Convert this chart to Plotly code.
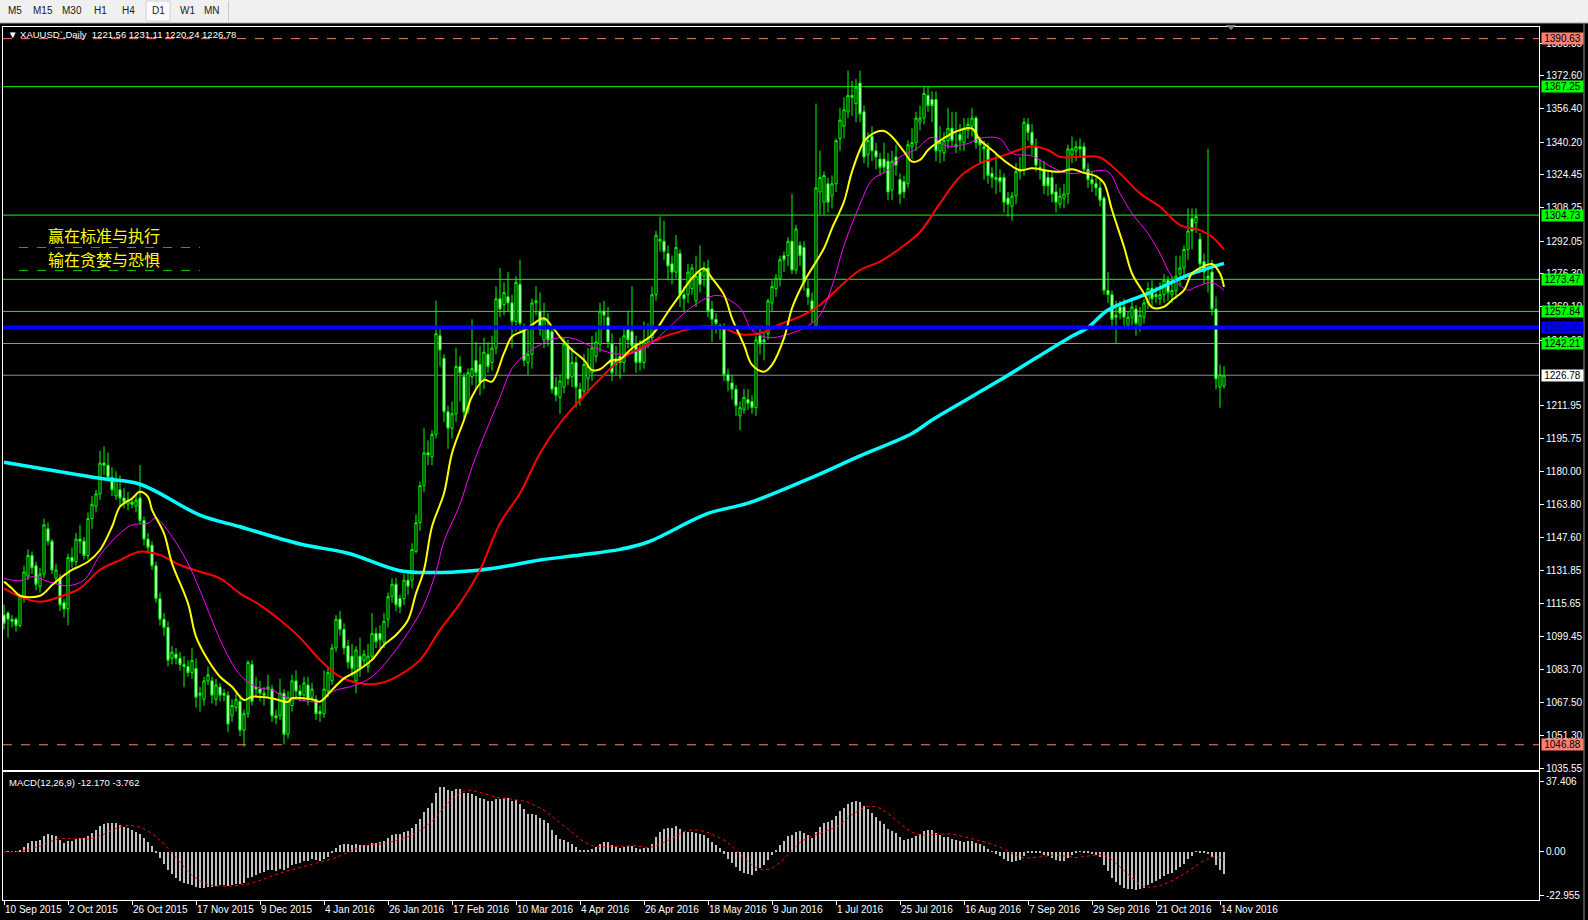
import numpy as np
import plotly.graph_objects as go

W, H = 1588, 920

# ---------------- data (daily XAUUSD bars, index 0 = 10 Sep 2015) ----------------
OPEN = [1110,1111,1108,1108,1105,1119,1129,1139,1134,1124,1130,1152,1146,1128,1128,1116,1113,1138,1136,1147,
        1146,1139,1157,1163,1169,1184,1183,1177,1168,1171,1167,1164,1165,1163,1167,1156,1147,1144,1134,1118,
        1108,1104,1089,1091,1089,1086,1085,1082,1084,1071,1069,1078,1078,1069,1075,1072,1071,1061,1065,1068,
        1054,1062,1086,1075,1074,1072,1074,1074,1061,1061,1072,1052,1066,1078,1073,1071,1076,1070,1069,1063,
        1062,1073,1078,1094,1108,1103,1095,1090,1078,1090,1088,1085,1090,1101,1101,1097,1108,1119,1125,1118,
        1118,1127,1127,1141,1155,1173,1189,1187,1198,1246,1235,1209,1201,1208,1231,1226,1210,1226,1234,1232,
        1225,1237,1233,1240,1264,1261,1265,1262,1253,1271,1249,1233,1237,1262,1258,1244,1249,1248,1221,1216,
        1221,1241,1226,1233,1220,1219,1225,1228,1236,1242,1258,1255,1242,1234,1236,1233,1249,1248,1242,1240,
        1233,1243,1245,1266,1292,1292,1286,1281,1277,1286,1266,1266,1269,1263,1277,1275,1279,1259,1254,1251,
        1250,1227,1223,1220,1207,1210,1215,1214,1211,1246,1244,1247,1262,1269,1274,1285,1285,1292,1278,1290,
        1289,1269,1263,1251,1316,1311,1320,1314,1320,1342,1348,1355,1363,1359,1369,1355,1334,1343,1336,1332,
        1332,1331,1317,1333,1322,1321,1320,1338,1340,1350,1352,1363,1361,1361,1336,1335,1341,1347,1338,1344,
        1340,1346,1348,1352,1341,1338,1337,1325,1322,1323,1323,1313,1309,1314,1326,1327,1349,1345,1338,1328,
        1327,1323,1323,1316,1310,1313,1315,1334,1336,1338,1338,1327,1322,1320,1318,1313,1268,1266,1256,1260,
        1260,1251,1255,1259,1251,1255,1262,1269,1266,1264,1266,1273,1266,1268,1276,1279,1288,1303,1301,1293,
        1282,1275,1277,1259,1221,1221.56]
HIGH = [1115,1112,1110,1109,1120,1134,1142,1141,1136,1133,1157,1155,1147,1135,1130,1118,1140,1143,1150,1154,
        1148,1160,1168,1171,1190,1192,1189,1182,1180,1178,1172,1170,1167,1169,1183,1158,1150,1146,1136,1121,
        1111,1107,1095,1094,1092,1090,1088,1094,1089,1075,1080,1085,1080,1079,1077,1074,1073,1069,1072,1071,
        1064,1088,1088,1080,1078,1075,1081,1076,1064,1079,1074,1073,1081,1083,1076,1080,1080,1077,1071,1066,
        1083,1085,1096,1110,1112,1106,1098,1096,1095,1099,1093,1096,1111,1104,1105,1111,1121,1128,1128,1120,
        1130,1131,1145,1159,1175,1201,1195,1200,1263,1250,1237,1212,1214,1240,1236,1228,1230,1254,1243,1241,
        1245,1243,1246,1270,1279,1272,1277,1266,1275,1283,1252,1250,1264,1270,1267,1262,1257,1250,1226,1227,
        1245,1244,1240,1236,1223,1237,1240,1246,1248,1262,1263,1260,1247,1241,1245,1250,1258,1270,1246,1244,
        1253,1252,1270,1297,1304,1302,1290,1285,1295,1288,1270,1281,1281,1285,1290,1282,1283,1263,1257,1252,
        1252,1230,1227,1222,1214,1220,1220,1217,1246,1250,1248,1264,1273,1276,1285,1287,1294,1315,1300,1292,
        1292,1273,1267,1359,1336,1326,1323,1324,1342,1357,1362,1375,1370,1371,1375,1358,1345,1348,1340,1335,
        1340,1335,1336,1339,1325,1324,1341,1347,1355,1358,1367,1367,1365,1365,1348,1345,1357,1355,1355,1349,
        1352,1352,1357,1353,1343,1341,1340,1328,1335,1327,1325,1316,1316,1330,1333,1352,1352,1349,1342,1332,
        1331,1326,1326,1320,1318,1320,1339,1343,1341,1342,1340,1330,1326,1323,1322,1314,1277,1268,1263,1263,
        1264,1258,1263,1261,1260,1264,1272,1273,1270,1272,1276,1275,1275,1285,1285,1290,1308,1308,1308,1296,
        1286,1337,1283,1265,1232,1231.11]
LOW = [1103,1099,1104,1102,1104,1116,1127,1130,1122,1121,1128,1144,1130,1125,1112,1109,1105,1133,1134,1140,
       1137,1137,1152,1160,1166,1178,1175,1168,1166,1163,1162,1161,1162,1160,1154,1144,1140,1132,1116,1105,
       1100,1085,1086,1086,1083,1075,1080,1079,1065,1063,1066,1076,1067,1066,1068,1068,1053,1058,1063,1051,
       1046,1060,1066,1070,1068,1066,1070,1058,1057,1059,1047,1050,1063,1070,1068,1068,1066,1068,1059,1058,
       1060,1070,1076,1092,1100,1091,1084,1080,1072,1080,1085,1082,1088,1094,1094,1094,1104,1116,1112,1111,
       1115,1120,1123,1140,1151,1170,1183,1183,1196,1231,1204,1191,1196,1204,1214,1206,1208,1222,1220,1217,
       1220,1228,1229,1237,1255,1256,1258,1240,1248,1248,1231,1227,1230,1256,1246,1240,1241,1218,1214,1208,
       1218,1222,1221,1211,1212,1216,1218,1224,1233,1238,1250,1240,1224,1227,1225,1228,1240,1237,1228,1229,
       1230,1240,1243,1263,1287,1283,1273,1271,1274,1260,1258,1262,1266,1260,1267,1270,1255,1243,1247,1244,
       1224,1219,1215,1207,1200,1208,1210,1208,1207,1237,1234,1244,1258,1265,1270,1277,1280,1276,1276,1280,
       1268,1261,1252,1249,1305,1305,1306,1308,1316,1336,1342,1352,1353,1350,1350,1330,1328,1331,1327,1324,
       1325,1312,1312,1324,1310,1313,1318,1332,1336,1346,1349,1355,1350,1331,1330,1331,1337,1338,1335,1336,
       1336,1342,1343,1337,1330,1322,1320,1318,1315,1316,1306,1304,1302,1310,1322,1324,1341,1334,1326,1322,
       1315,1314,1311,1306,1308,1308,1310,1330,1331,1333,1325,1318,1316,1314,1309,1266,1262,1250,1242,1254,
       1250,1249,1251,1246,1248,1252,1259,1260,1262,1261,1262,1263,1262,1264,1270,1274,1283,1288,1296,1278,
       1271,1267,1256,1220,1211,1220.24]
CLOSE = [1106,1108,1107,1105,1119,1131,1139,1133,1125,1130,1154,1146,1132,1132,1115,1113,1138,1136,1147,1146,
         1139,1157,1164,1169,1184,1183,1177,1171,1176,1167,1165,1166,1164,1166,1156,1147,1143,1134,1118,1108,
         1104,1088,1092,1089,1086,1085,1082,1088,1070,1072,1078,1081,1071,1076,1071,1071,1057,1066,1069,1054,
         1062,1087,1068,1074,1072,1071,1075,1061,1060,1072,1052,1070,1078,1073,1071,1077,1069,1074,1062,1062,
         1074,1082,1094,1108,1103,1094,1087,1084,1093,1084,1091,1090,1101,1097,1098,1107,1119,1125,1115,1114,
         1127,1124,1142,1155,1173,1189,1188,1198,1247,1239,1209,1201,1208,1231,1228,1209,1228,1230,1228,1223,
         1238,1231,1240,1264,1259,1267,1262,1253,1272,1252,1234,1237,1262,1263,1249,1254,1244,1220,1217,1224,
         1242,1225,1233,1221,1215,1232,1231,1240,1243,1258,1256,1243,1228,1232,1233,1246,1244,1241,1233,1233,
         1243,1245,1266,1295,1293,1287,1280,1277,1289,1266,1264,1277,1279,1275,1271,1278,1258,1254,1252,1249,
         1227,1224,1220,1212,1211,1216,1213,1211,1244,1242,1243,1263,1270,1274,1283,1283,1292,1278,1298,1285,
         1272,1265,1258,1318,1323,1324,1311,1320,1341,1351,1356,1363,1362,1367,1354,1333,1341,1336,1333,1328,
         1328,1316,1331,1329,1315,1316,1339,1340,1352,1352,1364,1358,1358,1336,1340,1341,1347,1341,1339,1341,
         1347,1349,1352,1340,1339,1337,1324,1323,1323,1321,1311,1310,1314,1326,1327,1350,1345,1339,1329,1327,
         1319,1319,1315,1311,1314,1315,1337,1337,1338,1337,1327,1322,1320,1318,1312,1268,1266,1254,1255,1257,
         1255,1255,1260,1252,1256,1262,1269,1264,1265,1266,1273,1267,1268,1275,1279,1288,1297,1297,1304,1281,
         1277,1274,1259,1225,1227,1226.78]

# moving averages: (bar index, value)
MA_FAST_IDX = [0,2,4,9,12,14,17,19,21,24,27,29,32,34,36,37,40,42,46,48,51,54,57,60,62,67,71,72,77,79,82,85,88,92,95,98,101,103,
               105,107,110,112,115,117,120,122,125,127,130,132,135,137,140,142,145,147,149,152,154,157,162,166,169,172,175,177,180,
               182,185,187,190,192,195,197,200,202,205,207,210,212,215,217,220,222,225,227,229,231,233,237,239,242,244,247,
               251,254,257,261,264,267,270,273,275,277,280,282,285,287,290,292,295,297,300,302,304,305]
MA_FAST_VAL = [1126.3,1123.0,1119.4,1119.4,1124.6,1127.9,1132.0,1133.9,1136.0,1141.7,1153.0,1162.8,1166.8,1170.1,1167.6,1161.2,
               1149.8,1135.2,1115.7,1099.5,1088.1,1080.0,1075.1,1068.7,1070.3,1069.5,1067.8,1069.5,1069.0,1067.9,1073.6,1079.2,
               1082.5,1088.2,1095.5,1100.3,1107.6,1120.6,1132.0,1153.1,1169.3,1188.8,1205.0,1216.4,1224.5,1223.7,1237.5,1245.6,
               1248.5,1251.3,1254.5,1250.4,1243.1,1239.1,1234.2,1229.3,1229.7,1234.2,1234.5,1239.9,1246.4,1257.7,1265.9,1274.0,
               1278.8,1274.0,1265.9,1254.5,1241.5,1231.8,1228.5,1231.8,1244.8,1259.4,1272.3,1278.8,1288.6,1298.3,1311.3,1325.9,
               1340.5,1344.2,1345.7,1342.9,1335.6,1330.8,1331.6,1336.4,1339.6,1344.5,1346.1,1346.9,1341.3,1336.4,1329.9,1326.6,
               1327.5,1326.3,1325.8,1327.1,1325.3,1323.7,1320.2,1307.2,1289.3,1276.3,1266.6,1259.8,1260.1,1263.4,1268.2,1276.3,
               1279.9,1280.9,1276.3,1269.8]
MA_MID_IDX = [0,4,7,12,16,20,24,29,32,36,38,42,46,49,55,59,63,67,70,74,79,82,88,92,97,102,105,108,110,114,117,121,124,127,131,
              134,137,142,147,154,160,166,171,176,179,184,187,191,196,201,204,207,210,214,217,221,224,228,232,236,241,244,249,
              252,257,262,266,271,276,279,282,286,289,292,296,298,302,305]
MA_MID_VAL = [1127.9,1126.7,1128.7,1125.8,1124.3,1127.1,1139.2,1149.8,1153.9,1154.7,1157.1,1148.2,1135.2,1122.0,1094.0,1081.0,
              1075.1,1073.5,1070.3,1068.7,1068.0,1072.7,1076.0,1080.0,1090.6,1104.4,1115.0,1131.0,1146.0,1164.0,1182.0,1202.0,
              1216.0,1230.0,1238.0,1241.5,1244.4,1244.8,1240.7,1237.0,1239.9,1249.6,1258.6,1264.6,1265.5,1259.4,1248.8,1245.1,
              1246.7,1250.9,1256.1,1270.0,1290.0,1310.0,1321.8,1326.7,1333.1,1336.7,1342.6,1338.3,1339.6,1342.1,1341.9,1334.8,
              1333.5,1328.0,1325.0,1325.8,1325.8,1315.3,1305.6,1295.8,1286.1,1274.7,1268.2,1269.8,1271.8,1268.2]
MA_SLOW_IDX = [0,4,9,14,19,24,29,34,39,44,49,54,59,64,69,74,79,84,89,94,99,104,109,114,119,124,129,134,139,144,149,154,159,164,
               169,174,179,184,189,194,199,204,209,214,219,224,229,234,239,244,249,254,257,261,264,269,274,279,284,289,294,299,302,305]
MA_SLOW_VAL = [1123.0,1119.0,1116.5,1119.0,1123.0,1132.0,1136.8,1140.9,1139.2,1134.4,1131.1,1127.9,1120.6,1114.9,1107.6,1099.0,
               1088.2,1080.0,1076.8,1076.8,1080.9,1088.2,1102.8,1115.7,1132.0,1154.7,1169.3,1188.8,1203.4,1214.7,1225.0,1234.2,
               1239.9,1244.8,1248.0,1250.4,1250.4,1246.7,1247.2,1251.6,1255.3,1261.0,1269.9,1278.0,1282.1,1288.5,1296.5,1310.4,
               1323.4,1329.9,1333.1,1336.7,1338.3,1336.4,1333.1,1333.1,1332.8,1325.0,1315.3,1308.8,1299.9,1297.4,1294.2,1288.0]
MA_LONG_IDX = [0,24,34,49,59,74,86,99,107,117,124,134,144,154,161,176,186,201,214,227,232,249,266,271,276,286,296,305]
MA_LONG_VAL = [1184.4,1176.6,1173.7,1158.7,1153.0,1144.6,1140.1,1131.6,1130.7,1131.6,1133.3,1136.8,1139.3,1142.0,1145.6,1159.5,
               1164.5,1176.2,1187.5,1198.4,1205.0,1224.4,1244.7,1250.0,1258.5,1266.6,1275.5,1281.2]

GREEN_LEVELS = [1367.25, 1304.73, 1273.47, 1257.84, 1242.21]
BLUE_LEVEL = 1250.00
CURRENT_PRICE = 1226.78
RED_LEVELS = [1390.63, 1046.88]
MACD_LAST, SIGNAL_LAST = -12.170, -3.762

PRICE_TICKS = [1388.35,1372.60,1356.40,1340.20,1324.45,1308.25,1292.05,1276.30,1260.10,1243.90,1211.95,
               1195.75,1180.00,1163.80,1147.60,1131.85,1115.65,1099.45,1083.70,1067.50,1051.30,1035.55]
MACD_TICKS = [37.406, 0.0, -22.955]
MACD_TICKTEXT = ["37.406", "0.00", "-22.955"]
DATE_TICK_IDX = list(range(0, 305, 16))
DATE_LABELS = ["10 Sep 2015","2 Oct 2015","26 Oct 2015","17 Nov 2015","9 Dec 2015","4 Jan 2016","26 Jan 2016",
               "17 Feb 2016","10 Mar 2016","4 Apr 2016","26 Apr 2016","18 May 2016","9 Jun 2016","1 Jul 2016",
               "25 Jul 2016","16 Aug 2016","7 Sep 2016","29 Sep 2016","21 Oct 2016","14 Nov 2016"]
TIMEFRAMES = ["M5","M15","M30","H1","H4","D1","W1","MN"]

# ---------------- derived ----------------
idx = list(range(len(CLOSE)))
cl = np.array(CLOSE, dtype=float)

def ema(a, n):
    k = 2.0 / (n + 1)
    out = np.empty_like(a)
    out[0] = a[0]
    for i in range(1, len(a)):
        out[i] = a[i] * k + out[i - 1] * (1 - k)
    return out

macd = ema(cl, 12) - ema(cl, 26)
signal = np.array([macd[max(0, i - 8):i + 1].mean() for i in range(len(macd))])

# ---------------- figure ----------------
def px(x):
    return x / W

def py(y):
    return 1 - y / H

X_LEFT, X_RIGHT = 3, 1539
X_RANGE = [-0.25, (X_RIGHT - 4) / 4.0]

fig = go.Figure()
fig.add_trace(go.Candlestick(
    x=idx, open=OPEN, high=HIGH, low=LOW, close=CLOSE,
    increasing=dict(line=dict(color="#00ff00", width=1), fillcolor="#000000"),
    decreasing=dict(line=dict(color="#00ff00", width=1), fillcolor="#ffffff"),
    whiskerwidth=0, hoverinfo="skip", xaxis="x", yaxis="y", showlegend=False))

fig.add_trace(go.Scatter(x=MA_LONG_IDX, y=MA_LONG_VAL, mode="lines", line=dict(color="#00ffff", width=3.5, shape="spline"),
                         hoverinfo="skip", xaxis="x", yaxis="y"))
fig.add_trace(go.Scatter(x=MA_SLOW_IDX, y=MA_SLOW_VAL, mode="lines", line=dict(color="#ff0000", width=2, shape="spline"),
                         hoverinfo="skip", xaxis="x", yaxis="y"))
fig.add_trace(go.Scatter(x=MA_MID_IDX, y=MA_MID_VAL, mode="lines", line=dict(color="#ff00ff", width=1, shape="spline"),
                         hoverinfo="skip", xaxis="x", yaxis="y"))
fig.add_trace(go.Scatter(x=MA_FAST_IDX, y=MA_FAST_VAL, mode="lines", line=dict(color="#ffff00", width=2, shape="spline"),
                         hoverinfo="skip", xaxis="x", yaxis="y"))

fig.add_trace(go.Bar(x=idx, y=macd, width=0.3, marker=dict(color="#c0c0c0", line=dict(width=0)),
                     hoverinfo="skip", xaxis="x2", yaxis="y2"))
fig.add_trace(go.Scatter(x=idx, y=signal, mode="lines", line=dict(color="#ff0000", width=1, dash="dot"),
                         hoverinfo="skip", xaxis="x2", yaxis="y2"))

shapes = []
for lv in GREEN_LEVELS:
    shapes.append(dict(type="line", xref="x domain", yref="y", x0=0, x1=1, y0=lv, y1=lv,
                       line=dict(color="#00ff00", width=1), layer="below"))
shapes.append(dict(type="line", xref="x domain", yref="y", x0=0, x1=1, y0=CURRENT_PRICE, y1=CURRENT_PRICE,
                   line=dict(color="#8c8c8c", width=1), layer="below"))
for lv in RED_LEVELS:
    shapes.append(dict(type="line", xref="x domain", yref="y", x0=0, x1=1, y0=lv, y1=lv,
                       line=dict(color="#fa8072", width=1, dash="dash")))
shapes.append(dict(type="line", xref="x domain", yref="y", x0=0, x1=1, y0=BLUE_LEVEL, y1=BLUE_LEVEL,
                   line=dict(color="#0000ff", width=4)))
# toolbar
shapes.append(dict(type="rect", xref="paper", yref="paper", x0=0, x1=1, y0=py(23), y1=1,
                   fillcolor="#f0f0f0", line=dict(width=0), layer="above"))
shapes.append(dict(type="line", xref="paper", yref="paper", x0=0, x1=1, y0=py(23), y1=py(23),
                   line=dict(color="#a0a0a0", width=1)))
shapes.append(dict(type="rect", xref="paper", yref="paper", x0=px(146), x1=px(170), y0=py(21), y1=py(1),
                   fillcolor="#fafafa", line=dict(color="#d0d0d0", width=1)))
shapes.append(dict(type="line", xref="paper", yref="paper", x0=px(228.5), x1=px(228.5), y0=py(21), y1=py(1),
                   line=dict(color="#c8c8c8", width=1)))
# chart shift marker
shapes.append(dict(type="path", xref="paper", yref="paper",
                   path=f"M {px(1226)},{py(25)} L {px(1236)},{py(25)} L {px(1231)},{py(30)} Z",
                   fillcolor="#808080", line=dict(width=0)))
# dashed separators under the Chinese text
for yy in (247.5, 270.5):
    shapes.append(dict(type="line", xref="paper", yref="paper", x0=px(19), x1=px(200), y0=py(yy), y1=py(yy),
                       line=dict(color="#00c000", width=1, dash="dash")))
# window right edge
shapes.append(dict(type="line", xref="paper", yref="paper", x0=px(1584), x1=px(1584), y0=0, y1=py(23),
                   line=dict(color="#909090", width=1)))

ann = []
FONT = "Liberation Sans, Arial, sans-serif"
def price_label(v, bg, fc="#000000"):
    ann.append(dict(xref="paper", yref="y", x=px(1541), y=v, xanchor="left", yanchor="middle",
                    text=f"{v:.2f}", showarrow=False, bgcolor=bg, width=41, height=11, borderpad=0,
                    align="center", font=dict(family=FONT, size=10, color=fc)))
price_label(RED_LEVELS[0], "#fa8072")
for lv in GREEN_LEVELS:
    price_label(lv, "#00ff00")
price_label(BLUE_LEVEL, "#0000ff", "#000060")
price_label(CURRENT_PRICE, "#ffffff")
price_label(RED_LEVELS[1], "#fa8072")

ann.append(dict(xref="paper", yref="paper", x=px(6), y=py(34), xanchor="left", yanchor="middle", showarrow=False,
                text="▼ XAUUSD`,Daily  1221.56 1231.11 1220.24 1226.78",
                font=dict(family=FONT, size=9.5, color="#ffffff")))
ann.append(dict(xref="paper", yref="paper", x=px(7), y=py(782), xanchor="left", yanchor="middle", showarrow=False,
                text=f"MACD(12,26,9) {MACD_LAST:.3f} {SIGNAL_LAST:.3f}",
                font=dict(family=FONT, size=9.5, color="#ffffff")))
for t, yy in (("赢在标准与执行", 235), ("输在贪婪与恐惧", 259)):
    ann.append(dict(xref="paper", yref="paper", x=px(104), y=py(yy), xanchor="center", yanchor="middle",
                    showarrow=False, text=t,
                    font=dict(family="Noto Sans CJK SC", size=16, color="#ffff00")))
tf_x = [15, 43, 72, 100, 128, 158, 187, 212]
for t, xx in zip(TIMEFRAMES, tf_x):
    ann.append(dict(xref="paper", yref="paper", x=px(xx), y=py(11), xanchor="center", yanchor="middle",
                    showarrow=False, text=t, font=dict(family=FONT, size=10, color="#202020")))

axis_font = dict(family=FONT, size=10, color="#ffffff")
common = dict(showgrid=False, zeroline=False, showline=True, mirror=True, linecolor="#ffffff", linewidth=1,
              automargin=False)

fig.update_layout(
    width=W, height=H, margin=dict(l=0, r=0, t=0, b=0, pad=0, autoexpand=False),
    paper_bgcolor="#000000", plot_bgcolor="#000000", showlegend=False,
    shapes=shapes, annotations=ann, bargap=0, boxgap=0.22,
    xaxis=dict(domain=[px(X_LEFT), px(X_RIGHT)], range=X_RANGE, anchor="y", showticklabels=False, ticks="",
               rangeslider=dict(visible=False), matches="x2", **common),
    yaxis=dict(domain=[py(770), py(27)], range=[1034.6, 1396.3], side="right", anchor="x",
               tickvals=PRICE_TICKS, ticktext=[f"{v:.2f}" for v in PRICE_TICKS], ticks="outside", ticklen=4,
               tickcolor="#ffffff", tickfont=axis_font, **common),
    xaxis2=dict(domain=[px(X_LEFT), px(X_RIGHT)], range=X_RANGE, anchor="y2", tickvals=DATE_TICK_IDX,
                ticktext=DATE_LABELS, ticks="outside", ticklen=4, tickcolor="#ffffff", tickfont=axis_font,
                ticklabelposition="outside right", tickangle=0, **common),
    yaxis2=dict(domain=[py(900), py(772)], range=[-25.6, 42.6], side="right", anchor="x2",
                tickvals=MACD_TICKS, ticktext=MACD_TICKTEXT, ticks="outside", ticklen=4, tickcolor="#ffffff",
                tickfont=axis_font, **common),
)

fig.write_html("out.html", config={"displayModeBar": False},
               post_script="document.body.style.margin='0';document.body.style.padding='0';"
                           "document.body.style.overflow='hidden';")
